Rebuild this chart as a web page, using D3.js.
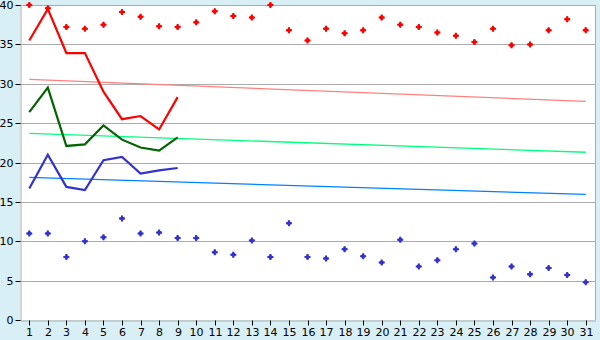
<!DOCTYPE html>
<html><head><meta charset="utf-8">
<script src="https://cdn.jsdelivr.net/npm/d3@7"></script>
<style>body{margin:0;background:#d9eff6;} svg{display:block;}</style>
</head><body>
<svg id="c" width="600" height="340"></svg>
<script>
const days = d3.range(1, 32);
const yTicks = [0, 5, 10, 15, 20, 25, 30, 35, 40];
const redPoints = [40.0, 39.6, 37.2, 37.0, 37.5, 39.1, 38.5, 37.3, 37.2, 37.8, 39.2, 38.6, 38.4, 40.0, 36.8, 35.5, 37.0, 36.4, 36.8, 38.4, 37.5, 37.2, 36.5, 36.1, 35.3, 37.0, 34.9, 35.0, 36.8, 38.2, 36.8];
const bluePoints = [11.0, 11.0, 8.0, 10.0, 10.5, 12.9, 11.0, 11.1, 10.4, 10.4, 8.6, 8.3, 10.1, 8.0, 12.3, 8.0, 7.8, 9.0, 8.1, 7.3, 10.2, 6.8, 7.6, 9.0, 9.7, 5.4, 6.8, 5.8, 6.6, 5.7, 4.8];
const redLine = [35.5, 39.5, 33.9, 33.9, 29.0, 25.5, 25.9, 24.2, 28.3];
const greenLine = [26.4, 29.5, 22.1, 22.3, 24.7, 22.9, 21.9, 21.5, 23.2];
const blueLine = [16.7, 21.0, 16.9, 16.5, 20.3, 20.7, 18.6, 19.0, 19.3];
const trendPink = [[1, 30.55], [31, 27.75]];
const trendGreen = [[1, 23.7], [31, 21.3]];
const trendBlue = [[1, 18.1], [31, 15.95]];

const svg = d3.select("#c");
const L = 20, R = 595, T = 5, B = 320;
const x = d3.scalePoint().domain(days).range([L, R]).padding(0.5);
const y = d3.scaleLinear().domain([0, 40]).range([B, T]);

svg.append("rect").attr("x", L).attr("y", T).attr("width", R - L).attr("height", B - T).attr("fill", "#fff");

svg.append("g").selectAll("line").data(yTicks.filter(d => d > 0)).join("line")
  .attr("x1", L).attr("x2", R).attr("y1", d => Math.round(y(d)) + 0.5).attr("y2", d => Math.round(y(d)) + 0.5)
  .attr("stroke", "#ababab").attr("stroke-width", 1);
svg.append("line").attr("x1", R + 0.5).attr("x2", R + 0.5).attr("y1", T).attr("y2", B)
  .attr("stroke", "#ababab");

const fontFam = "'DejaVu Sans', Verdana, sans-serif";
const yAxis = svg.append("g").attr("transform", `translate(${L + 0.5},0.5)`)
  .call(d3.axisLeft(y).tickValues(yTicks).tickSize(5).tickPadding(2).tickSizeOuter(0));
const xAxis = svg.append("g").attr("transform", `translate(0.5,${B + 0.5})`)
  .call(d3.axisBottom(x).tickSize(5).tickPadding(3).tickSizeOuter(0));
[yAxis, xAxis].forEach(a => {
  a.select(".domain").attr("stroke", "#ababab");
  a.selectAll(".tick line").attr("stroke", "#000");
  a.selectAll("text").attr("fill", "#000").style("font-family", fontFam).style("font-size", "11px");
});
yAxis.selectAll(".tick").attr("transform", d => `translate(0,${Math.round(y(d))})`);
xAxis.selectAll(".tick").attr("transform", d => `translate(${Math.round(x(d))},0)`);

const tline = d3.line().x(d => x(d[0])).y(d => y(d[1]));
[[trendPink, "#ff8080"], [trendGreen, "#00ff80"], [trendBlue, "#0080ff"]].forEach(([data, c]) => {
  svg.append("path").datum(data).attr("d", tline).attr("fill", "none").attr("stroke", c).attr("stroke-width", 1.3);
});

const dline = d3.line().x((d, i) => x(days[i])).y(d => y(d));
[[redLine, "#ff0000"], [greenLine, "#006400"], [blueLine, "#3333cc"]].forEach(([data, c]) => {
  svg.append("path").datum(data).attr("d", dline).attr("fill", "none").attr("stroke", c).attr("stroke-width", 2.2).attr("stroke-linejoin", "miter");
});

const sq = d3.symbol(d3.symbolSquare, 16);
const cr = d3.symbol(d3.symbolCross, 20);
[[redPoints, "#ff0000"], [bluePoints, "#3333cc"]].forEach(([data, c]) => {
  const g = svg.append("g").selectAll("g").data(data).join("g")
    .attr("transform", (d, i) => `translate(${x(days[i])},${y(d)})`);
  g.append("path").attr("d", sq).attr("transform", "rotate(45)").attr("fill", c);
  g.append("path").attr("d", cr).attr("fill", c);
});
</script>
</body></html>
